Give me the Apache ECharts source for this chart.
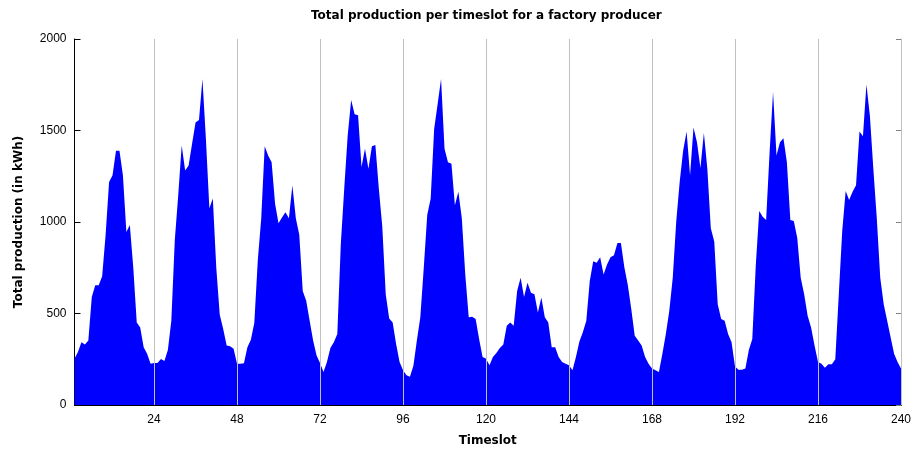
<!DOCTYPE html>
<html>
<head>
<meta charset="utf-8">
<title>Total production per timeslot</title>
<script src="https://cdn.jsdelivr.net/npm/echarts@6/dist/echarts.min.js"></script>
<style>
  html, body { margin: 0; padding: 0; background: #fff; }
  #chart { width: 915px; height: 452px; }
</style>
</head>
<body>
<div id="chart"></div>
<script>
// Hourly production (kWh) of one factory producer, one array per day of 24 timeslots
const day1  = [253, 289, 343, 330, 352, 590, 654, 654, 704, 930, 1219, 1255, 1390, 1390, 1255, 945, 984, 750, 451, 424, 316, 280, 226, 229];
const day2  = [229, 251, 240, 300, 460, 900, 1147, 1418, 1282, 1309, 1427, 1544, 1558, 1782, 1454, 1075, 1129, 750, 493, 415, 325, 321, 307, 226];
const day3  = [226, 228, 316, 356, 450, 790, 1020, 1414, 1364, 1327, 1100, 993, 1024, 1053, 1020, 1200, 1020, 930, 623, 569, 460, 352, 271, 229];
const day4  = [181, 235, 312, 343, 388, 876, 1183, 1472, 1667, 1589, 1584, 1300, 1400, 1291, 1414, 1421, 1183, 975, 605, 473, 451, 334, 235, 190];
const day5  = [163, 154, 215, 352, 479, 750, 1038, 1129, 1508, 1643, 1782, 1400, 1327, 1318, 1092, 1165, 1020, 713, 479, 482, 470, 361, 262, 253];
const day6  = [217, 262, 284, 312, 330, 433, 451, 433, 623, 695, 590, 668, 614, 605, 506, 587, 479, 451, 316, 316, 262, 235, 226, 217];
const day7  = [190, 262, 347, 397, 460, 677, 786, 777, 807, 713, 768, 807, 818, 885, 885, 753, 656, 524, 379, 352, 325, 262, 226, 199];
const day8  = [190, 181, 280, 388, 515, 695, 1002, 1219, 1390, 1494, 1255, 1517, 1436, 1295, 1486, 1291, 966, 894, 551, 470, 460, 388, 343, 211];
const day9  = [193, 193, 200, 300, 360, 760, 1060, 1029, 1011, 1380, 1710, 1364, 1436, 1457, 1327, 1011, 1006, 912, 695, 605, 488, 424, 325, 235];
const day10 = [226, 204, 222, 222, 250, 600, 950, 1170, 1120, 1165, 1201, 1494, 1468, 1752, 1580, 1291, 1020, 695, 551, 460, 370, 280, 235, 199];

const xTicks = [24, 48, 72, 96, 120, 144, 168, 192, 216, 240];
const yTicks = [0, 500, 1000, 1500, 2000];

const production = [].concat(day1, day2, day3, day4, day5, day6, day7, day8, day9, day10);
const points = production.map((v, i) => [i + 1, v]);

const labelFont = { color: '#000', fontFamily: 'Liberation Sans', fontSize: 12 };
const nameFont = { color: '#000', fontFamily: 'DejaVu Sans', fontWeight: 'bold', fontSize: 12 };

const chart = echarts.init(document.getElementById('chart'), null, { renderer: 'canvas' });
chart.setOption({
  animation: false,
  backgroundColor: '#fff',
  title: {
    text: 'Total production per timeslot for a factory producer',
    left: 311,
    top: 10,
    padding: 0,
    textStyle: nameFont
  },
  grid: { left: 74.5, right: 14, top: 39, bottom: 44 },
  xAxis: [
    {
      type: 'value',
      min: 1,
      max: 240,
      position: 'bottom',
      name: 'Timeslot',
      nameLocation: 'middle',
      nameGap: 30,
      nameTextStyle: nameFont,
      axisLine: { show: true, lineStyle: { color: '#000', width: 1 } },
      axisTick: { show: true, inside: true, length: 5, customValues: xTicks, lineStyle: { color: '#000' } },
      axisLabel: Object.assign({ customValues: xTicks, margin: 9 }, labelFont),
      splitLine: { show: false }
    },
    {
      type: 'value',
      min: 1,
      max: 240,
      position: 'top',
      axisLine: { show: true, lineStyle: { color: '#000', width: 1 } },
      axisTick: { show: false },
      axisLabel: { show: false },
      splitLine: { show: false }
    }
  ],
  yAxis: [
    {
      type: 'value',
      min: yTicks[0],
      max: yTicks[yTicks.length - 1],
      interval: 500,
      position: 'left',
      name: 'Total production (in kWh)',
      nameLocation: 'middle',
      nameRotate: 90,
      nameGap: 50,
      nameTextStyle: nameFont,
      axisLine: { show: true, lineStyle: { color: '#000', width: 1 } },
      axisTick: { show: true, inside: true, length: 6, lineStyle: { color: '#000' } },
      axisLabel: Object.assign({ margin: 8, formatter: v => String(v) }, labelFont),
      splitLine: { show: false }
    },
    {
      type: 'value',
      min: yTicks[0],
      max: yTicks[yTicks.length - 1],
      interval: 500,
      position: 'right',
      axisLine: { show: true, lineStyle: { color: '#a8a8a8', width: 1 } },
      axisTick: { show: true, inside: true, length: 5, lineStyle: { color: '#808080' } },
      axisLabel: { show: false },
      splitLine: { show: false }
    }
  ],
  series: [
    {
      type: 'line',
      xAxisIndex: 0,
      yAxisIndex: 0,
      data: points,
      symbol: 'none',
      lineStyle: { width: 0, color: '#0000ff' },
      itemStyle: { color: '#0000ff' },
      areaStyle: { color: '#0000ff', opacity: 1 },
      // vertical grid drawn in front of the filled area
      markLine: {
        silent: true,
        symbol: 'none',
        label: { show: false },
        lineStyle: { color: '#c0c0c0', width: 1, type: 'solid' },
        emphasis: { disabled: true },
        data: xTicks.map(t => ({ xAxis: t }))
      }
    }
  ]
});
</script>
</body>
</html>
